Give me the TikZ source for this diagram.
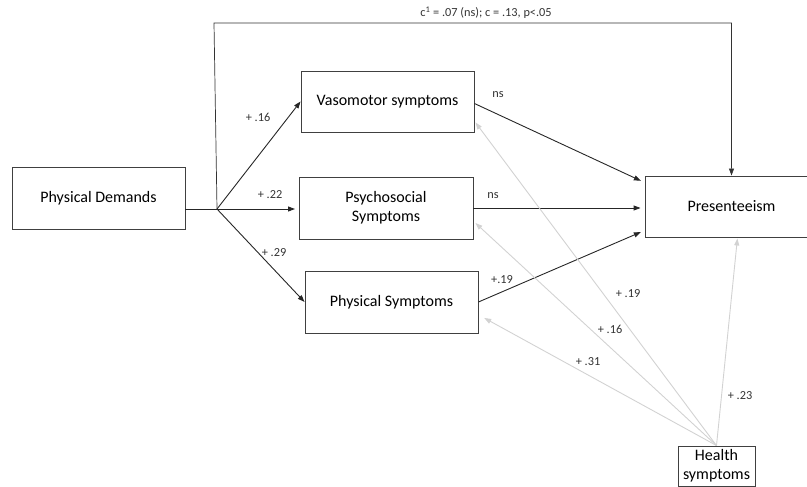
\documentclass[tikz,border=0pt]{standalone}
\usepackage{fontspec}
\setmainfont{Carlito}
\usetikzlibrary{arrows.meta,calc}

\definecolor{boxgray}{HTML}{404040}
\definecolor{lightgray}{HTML}{D2D2D2}

\begin{document}
\begin{tikzpicture}[x=1pt,y=-1pt,
  box/.style={draw=boxgray,line width=0.9pt,align=center,inner sep=0pt,
    font=\fontsize{16}{19}\selectfont},
  link/.style={draw=black!85,line width=0.9pt,-{Triangle[length=7pt,width=5pt]}},
  healthlink/.style={draw=lightgray,line width=0.9pt,-{Triangle[length=7pt,width=5pt]}},
  coef/.style={font=\fontsize{12.3}{14}\selectfont,text=black!80}]
\useasboundingbox (0,0) rectangle (807,487);

% Predictor and outcome
\node[box,minimum width=173pt,minimum height=62pt] (demands) at (98.5,198) {Physical Demands};
\node[box,minimum width=173pt,minimum height=61pt] (present) at (731.5,206.5) {Presenteeism};

% Mediators
\node[box,minimum width=173pt,minimum height=61pt] (vaso) at (387.5,101.5) {Vasomotor symptoms};
\node[box,minimum width=174pt,minimum height=62pt] (psycho) at (386,208) {Psychosocial\\Symptoms};
\node[box,minimum width=173pt,minimum height=62pt] (physical) at (391.5,302) {Physical Symptoms};

% Covariate
\node[box,minimum width=77pt,minimum height=40pt] (health) at (716.5,466) {Health\\symptoms};

% Paths a
\coordinate (split) at (217,209);
\draw[draw=black!85,line width=0.9pt] (demands.east |- split) -- (split);
\draw[link] (split) -- (vaso.west);
\draw[link] (split) -- (295,209);
\draw[link] (split) -- (physical.west);
\node[coef] (avaso) at (258,117) {+ .16};
\node[coef] (apsycho) at (270,195) {+ .22};
\node[coef] (aphysical) at (274,253) {+ .29};

% Paths b
\draw[link,shorten >=4pt] ($(vaso.east)+(0,2)$) -- ($(present.west)+(0,-24)$);
\draw[link,shorten >=4pt] (psycho.east) -- ($(present.west)+(0,1.5)$);
\draw[link,shorten >=4pt] (physical.east) -- ($(present.west)+(0,24)$);
\node[coef] (bvaso) at (498,95) {ns};
\node[coef] (bpsycho) at (493,196) {ns};
\node[coef] (bphysical) at (502,280) {+.19};

% Direct path
\coordinate (top) at (214,23);
\draw[line width=0.7pt,draw=black!80,-{Triangle[length=7pt,width=5pt]}]
  (split) -- (top) -| (present.north);
\node[coef] (cpath) at (486,13) {c\textsuperscript{1} = .07 (ns); c = .13, p<.05};

% Health symptoms
\draw[healthlink] (health.north) -- ($(vaso.south east)+(1,-10)$);
\draw[healthlink] (health.north) -- ($(psycho.east)+(2,15)$);
\draw[healthlink,shorten >=2pt] (health.north) -- ($(physical.east)+(4,15)$);
\draw[healthlink,shorten >=1pt] (health.north) -- ($(present.south)+(6,0)$);
\node[coef] (hvaso) at (628,294) {+ .19};
\node[coef] (hpsycho) at (610,329) {+ .16};
\node[coef] (hphysical) at (588,362) {+ .31};
\node[coef] (hpresent) at (740,396) {+ .23};
\end{tikzpicture}
\end{document}
